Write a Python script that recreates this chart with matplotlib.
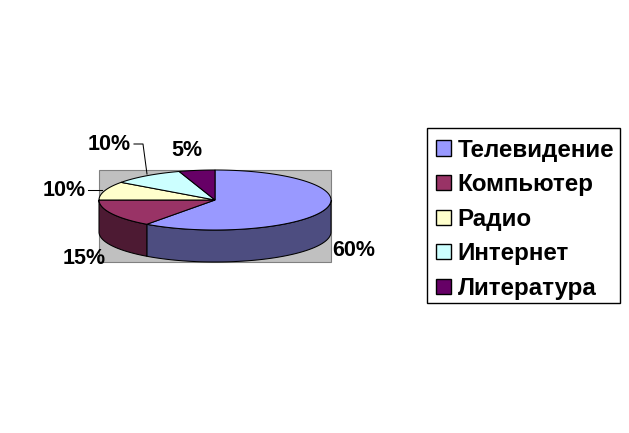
import numpy as np
import matplotlib
matplotlib.use("Agg")
import matplotlib.pyplot as plt
from matplotlib.patches import Patch, Polygon, Rectangle

categories = ["Телевидение", "Компьютер", "Радио", "Интернет", "Литература"]
shares = [60, 15, 10, 10, 5]
share_labels = ["60%", "15%", "10%", "10%", "5%"]

TOP_COLORS = ["#9999ff", "#993366", "#ffffcc", "#ccffff", "#660066"]
SIDE_COLORS = ["#4d4d80", "#4d1a33", "#80806a", "#6a8080", "#330033"]

W, H = 629, 433
CX, CY, RX, RY = 215, 200, 116, 30
DEPTH = 32
LABEL_POS = [(354, 250), (84, 258), (64, 191), (109, 145), (187, 150)]


def rim(a0, a1):
    # angles are clockwise from 12 o'clock, in degrees
    t = np.radians(np.linspace(a0, a1, 200))
    return np.column_stack([CX + RX * np.sin(t), CY - RY * np.cos(t)])


def main():
    plt.rcParams["font.family"] = ["Liberation Sans", "DejaVu Sans"]
    fig = plt.figure(figsize=(W / 100, H / 100), dpi=100, facecolor="white")
    ax = fig.add_axes([0, 0, 1, 1])
    ax.set_xlim(0, W)
    ax.set_ylim(H, 0)
    ax.axis("off")

    # plot area behind the pie
    ax.add_patch(Rectangle((CX - RX, CY - RY), 2 * RX, 2 * RY + DEPTH,
                           facecolor="#c0c0c0", edgecolor="#808080", linewidth=0.8))

    edges = np.cumsum([0] + shares) * 360 / sum(shares)

    # side wall, only the front half of the rim is visible
    for i in range(len(shares)):
        a0, a1 = max(edges[i], 90), min(edges[i + 1], 270)
        if a0 >= a1:
            continue
        top = rim(a0, a1)
        wall = np.vstack([top, top[::-1] + [0, DEPTH]])
        ax.add_patch(Polygon(wall, closed=True, facecolor=SIDE_COLORS[i],
                             edgecolor="black", linewidth=0.75))

    # top face
    for i in range(len(shares)):
        pts = np.vstack([[CX, CY], rim(edges[i], edges[i + 1])])
        ax.add_patch(Polygon(pts, closed=True, facecolor=TOP_COLORS[i],
                             edgecolor="black", linewidth=0.75))

    for label, (x, y) in zip(share_labels, LABEL_POS):
        ax.text(x, y, label, ha="center", va="center", fontsize=15.5,
                fontweight="bold", color="black")

    # leader lines
    ax.plot([88, 102], [190, 190], color="black", linewidth=0.75)
    ax.plot([134, 143, 147], [144, 144, 174], color="black", linewidth=0.75)

    # legend frame is drawn separately so the inner padding can differ per side
    ax.add_patch(Rectangle((427, 128), 193, 175, facecolor="white",
                           edgecolor="black", linewidth=1))
    handles = [Patch(facecolor=c, edgecolor="black", linewidth=1) for c in TOP_COLORS]
    fig.legend(handles, categories, loc="upper left",
               bbox_to_anchor=(436 / W, 1 - 138.5 / H), borderaxespad=0,
               frameon=False, prop={"weight": "bold", "size": 17.4},
               handlelength=0.6, handleheight=0.6, handletextpad=0.3,
               labelspacing=0.48, borderpad=0)

    fig.savefig("out.png", dpi=100)


if __name__ == "__main__":
    main()
